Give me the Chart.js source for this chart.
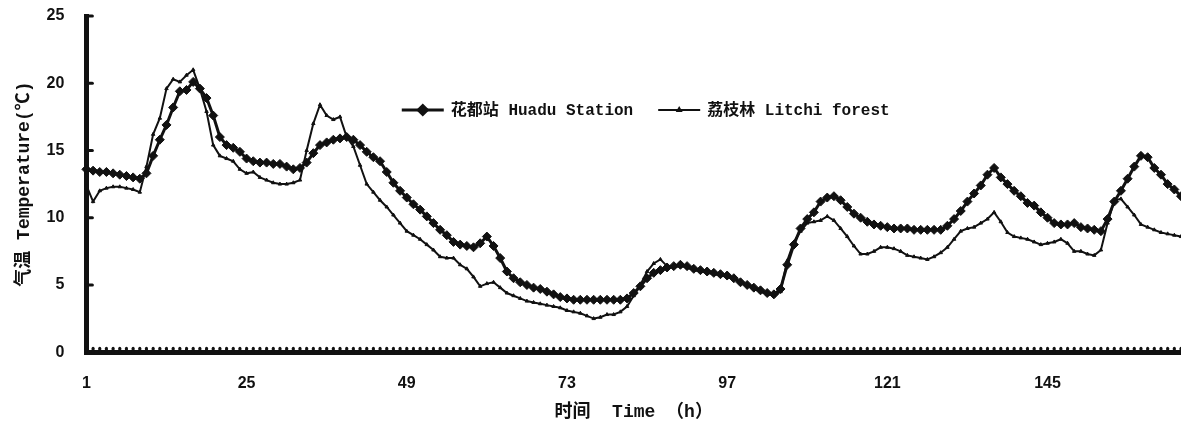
<!DOCTYPE html>
<html>
<head>
<meta charset="utf-8">
<script src="https://cdn.jsdelivr.net/npm/chart.js@4.4.1/dist/chart.umd.min.js"></script>
<style>
  html, body { margin: 0; padding: 0; background: #fff; overflow: hidden; }
  canvas { display: block; }
</style>
</head>
<body>
<canvas id="tempChart" width="1181" height="427"></canvas>
<script>
// hourly categories 1..165, labelled every 24 h
const hours = Array.from({ length: 165 }, (_, i) => i + 1);
const tickHours = [1, 25, 49, 73, 97, 121, 145];

const seriesNames = ['花都站 Huadu Station', '荔枝林 Litchi forest'];

// 花都站 Huadu Station (°C)
const huadu = [
  13.6, 13.5, 13.4, 13.4, 13.3, 13.2, 13.1, 13.0, 12.9, 13.3,
  14.6, 15.8, 16.9, 18.2, 19.4, 19.5, 20.1, 19.6, 18.9, 17.6,
  16.0, 15.4, 15.2, 14.9, 14.4, 14.2, 14.1, 14.1, 14.0, 14.0,
  13.8, 13.6, 13.7, 14.1, 14.8, 15.4, 15.6, 15.8, 15.9, 16.0,
  15.8, 15.4, 14.9, 14.5, 14.2, 13.4, 12.6, 12.0, 11.5, 11.0,
  10.6, 10.1, 9.6, 9.1, 8.7, 8.2, 8.0, 7.9, 7.8, 8.1,
  8.6, 7.9, 7.0, 6.0, 5.5, 5.2, 5.0, 4.8, 4.7, 4.5,
  4.3, 4.1, 4.0, 3.9, 3.9, 3.9, 3.9, 3.9, 3.9, 3.9,
  3.9, 4.0, 4.4, 4.9, 5.5, 5.9, 6.1, 6.3, 6.4, 6.5,
  6.4, 6.2, 6.1, 6.0, 5.9, 5.8, 5.7, 5.5, 5.2, 5.0,
  4.8, 4.6, 4.4, 4.3, 4.7, 6.5, 8.0, 9.2, 9.9, 10.4,
  11.2, 11.5, 11.6, 11.3, 10.8, 10.3, 10.0, 9.7, 9.5, 9.4,
  9.3, 9.2, 9.2, 9.2, 9.1, 9.1, 9.1, 9.1, 9.1, 9.4,
  9.9, 10.5, 11.2, 11.8, 12.4, 13.2, 13.7, 13.0, 12.5, 12.0,
  11.6, 11.1, 10.9, 10.4, 10.0, 9.6, 9.5, 9.5, 9.6, 9.3,
  9.2, 9.1, 9.0, 9.9, 11.2, 12.0, 12.9, 13.8, 14.6, 14.5,
  13.7, 13.2, 12.5, 12.1, 11.6
];

// 荔枝林 Litchi forest (°C)
const litchi = [
  12.4, 11.2, 12.0, 12.2, 12.3, 12.3, 12.2, 12.1, 11.9, 13.8,
  16.2, 17.4, 19.6, 20.3, 20.1, 20.6, 21.0, 19.6, 17.9, 15.4,
  14.6, 14.4, 14.2, 13.6, 13.3, 13.4, 13.0, 12.8, 12.6, 12.5,
  12.5, 12.6, 12.8, 15.0, 17.0, 18.4, 17.6, 17.3, 17.5, 16.0,
  15.3, 13.9, 12.5, 11.9, 11.3, 10.8, 10.2, 9.6, 9.0, 8.7,
  8.4, 8.0, 7.6, 7.1, 7.0, 7.0, 6.5, 6.2, 5.6, 4.9,
  5.1, 5.2, 4.8, 4.4, 4.2, 4.0, 3.8, 3.7, 3.6, 3.5,
  3.4, 3.3, 3.1, 3.0, 2.9, 2.7, 2.5, 2.6, 2.8, 2.8,
  3.0, 3.4, 4.2, 5.0, 6.0, 6.6, 6.9, 6.4, 6.3, 6.4,
  6.3, 6.1, 6.0, 5.9, 5.8, 5.7, 5.6, 5.4, 5.2, 5.0,
  4.7, 4.5, 4.3, 4.2, 4.5, 6.8, 8.2, 9.0, 9.6, 9.7,
  9.8, 10.1, 9.8, 9.2, 8.6, 7.9, 7.3, 7.3, 7.5, 7.8,
  7.8, 7.7, 7.5, 7.2, 7.1, 7.0, 6.9, 7.1, 7.4, 7.8,
  8.4, 9.0, 9.2, 9.3, 9.6, 9.9, 10.4, 9.7, 8.9, 8.6,
  8.5, 8.4, 8.2, 8.0, 8.1, 8.2, 8.4, 8.1, 7.5, 7.5,
  7.3, 7.2, 7.6, 9.6, 11.3, 11.4, 10.8, 10.2, 9.5, 9.3,
  9.1, 8.9, 8.8, 8.7, 8.6
];

const ink = '#111';
const monoFamily = '"Liberation Mono", "Noto Sans CJK SC", monospace';
const tickFamily = '"Liberation Sans", Arial, sans-serif';

// small inward tick marks on both axes
const innerTicks = {
  id: 'innerTicks',
  afterDraw(chart) {
    const { ctx, chartArea, scales: { x, y } } = chart;
    ctx.save();
    ctx.strokeStyle = ink;
    ctx.lineCap = 'round';
    ctx.lineWidth = 3;
    y.ticks.forEach(t => {
      if (t.value === 0) return;
      const py = y.getPixelForValue(t.value);
      ctx.beginPath();
      ctx.moveTo(chartArea.left, py);
      ctx.lineTo(chartArea.left + 6, py);
      ctx.stroke();
    });
    hours.forEach((h, i) => {
      const px = x.getPixelForValue(i);
      ctx.beginPath();
      ctx.moveTo(px, chartArea.bottom);
      ctx.lineTo(px, chartArea.bottom - 4);
      ctx.stroke();
    });
    ctx.restore();
  }
};

// legend drawn inside the plot, line + marker samples like the original
const insideLegend = {
  id: 'insideLegend',
  afterDatasetsDraw(chart, args, opts) {
    const { ctx, chartArea } = chart;
    const sampleW = 42, textGap = 7, itemGap = 25;
    ctx.save();
    ctx.font = opts.font;
    const widths = chart.data.datasets.map(ds => sampleW + textGap + ctx.measureText(ds.label).width);
    const total = widths.reduce((a, b) => a + b, 0) + itemGap * (widths.length - 1);
    let x = (chartArea.left + chartArea.right) / 2 - total / 2 + opts.shiftX;
    const y = opts.y;
    chart.data.datasets.forEach((ds, i) => {
      ctx.strokeStyle = ds.borderColor;
      ctx.fillStyle = ds.borderColor;
      ctx.lineWidth = ds.borderWidth;
      ctx.beginPath();
      ctx.moveTo(x, y);
      ctx.lineTo(x + sampleW, y);
      ctx.stroke();
      Chart.helpers.drawPoint(ctx, { pointStyle: ds.pointStyle, radius: ds.pointRadius, borderWidth: 1, rotation: 0 }, x + sampleW / 2, y);
      ctx.fillStyle = ink;
      ctx.textBaseline = 'middle';
      ctx.textAlign = 'left';
      ctx.fillText(ds.label, x + sampleW + textGap, y + 1);
      x += widths[i] + itemGap;
    });
    ctx.restore();
  }
};

// invisible tick marks give the label gap without widening the side padding
const hiddenTicks = len => ({ display: true, drawOnChartArea: false, drawTicks: true, tickLength: len, color: 'rgba(0,0,0,0)' });

const ctx = document.getElementById('tempChart').getContext('2d');
new Chart(ctx, {
  type: 'line',
  data: {
    labels: hours,
    datasets: [
      {
        label: seriesNames[0],
        data: huadu,
        borderColor: ink,
        backgroundColor: ink,
        borderWidth: 3,
        pointStyle: 'rectRot',
        pointRadius: 4.5,
        pointBorderWidth: 1,
        tension: 0
      },
      {
        label: seriesNames[1],
        data: litchi,
        borderColor: ink,
        backgroundColor: ink,
        borderWidth: 2,
        pointStyle: 'triangle',
        pointRadius: 2,
        pointBorderWidth: 1,
        tension: 0
      }
    ]
  },
  options: {
    responsive: false,
    animation: false,
    layout: { autoPadding: false, padding: { left: 14, right: 0, top: 16, bottom: 2 } },
    plugins: {
      legend: { display: false },
      tooltip: { enabled: false },
      insideLegend: { font: 'bold 16px ' + monoFamily, y: 110, shiftX: 12 }
    },
    scales: {
      x: {
        type: 'category',
        offset: false,
        grid: hiddenTicks(20),
        border: { display: true, width: 5, color: ink },
        afterFit: scale => { scale.paddingRight = 0; },
        ticks: {
          autoSkip: false,
          maxRotation: 0,
          padding: 2,
          color: ink,
          font: { size: 16, weight: 'bold', family: tickFamily },
          callback: (val, idx) => tickHours.includes(hours[idx]) ? String(hours[idx]) : ''
        },
        title: {
          display: true,
          text: '时间  Time （h）',
          color: ink,
          padding: { top: 6, bottom: 2 },
          font: { size: 18, weight: 'bold', family: monoFamily }
        }
      },
      y: {
        min: 0,
        max: 25,
        grid: hiddenTicks(20),
        border: { display: true, width: 5, color: ink },
        ticks: {
          stepSize: 5,
          padding: 2,
          color: ink,
          font: { size: 16, weight: 'bold', family: tickFamily }
        },
        title: {
          display: true,
          text: '气温 Temperature(℃)',
          color: ink,
          padding: { top: 0, bottom: 9 },
          font: { size: 18, weight: 'bold', family: monoFamily }
        }
      }
    }
  },
  plugins: [innerTicks, insideLegend]
});
</script>
</body>
</html>
